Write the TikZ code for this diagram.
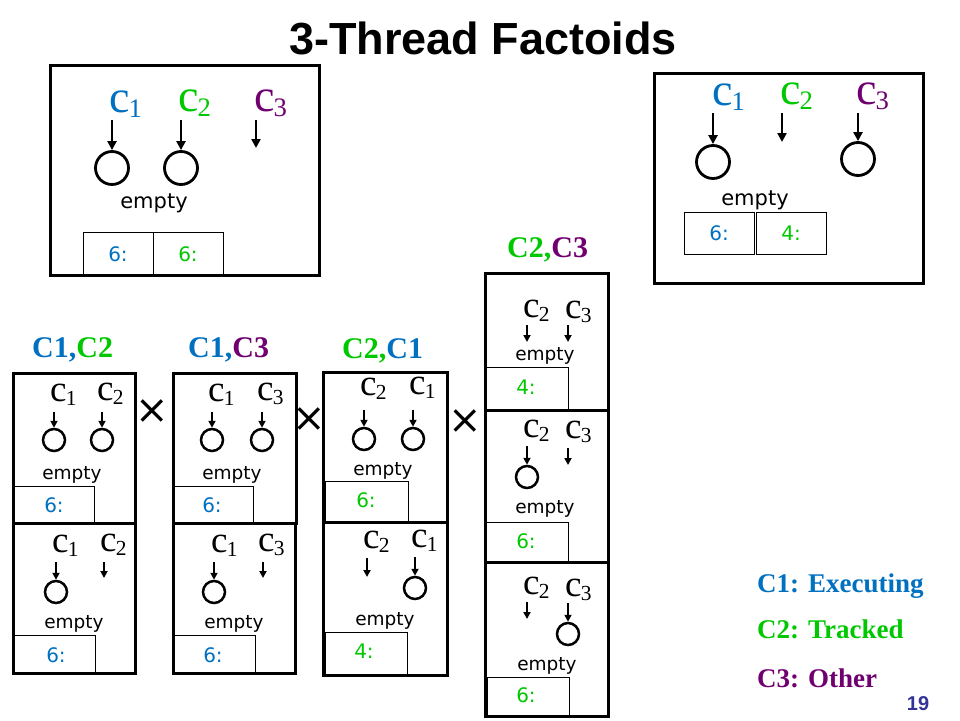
\documentclass[tikz,border=0pt]{standalone}
\usepackage{fontspec}
\setmainfont{Liberation Serif}
\setsansfont{DejaVu Sans}
\newfontfamily\arialfont{Liberation Sans}
\usetikzlibrary{arrows.meta}
\definecolor{cblue}{RGB}{0,112,192}
\definecolor{cgreen}{RGB}{0,200,0}
\definecolor{cpurple}{RGB}{112,0,112}
\definecolor{pagenavy}{RGB}{51,51,153}
\newcommand\cth[1]{c\kern-0.02em\raisebox{-0.12em}{\scalebox{0.58}{#1}}}
\begin{document}
\begin{tikzpicture}[x=1pt,y=-1pt,
    frame/.style={line width=3pt},
    reg/.style={line width=0.9pt},
    lock/.style={circle, draw, line width=2.8pt, inner sep=0pt, minimum size=33pt},
    slock/.style={lock, line width=2.5pt, minimum size=22pt},
    ptr/.style={line width=2.8pt, -{Triangle[length=9pt,width=9pt]}},
    sptr/.style={line width=2.4pt, -{Triangle[length=7pt,width=7pt]}},
    lbl/.style={anchor=base west, inner sep=0pt, font=\fontsize{46}{46}\selectfont},
    slbl/.style={anchor=base west, inner sep=0pt, font=\fontsize{37}{37}\selectfont},
    emp/.style={anchor=base, inner sep=0pt, font=\sffamily\fontsize{21}{21}\selectfont},
    semp/.style={emp, font=\sffamily\fontsize{18.5}{18.5}\selectfont},
    regtxt/.style={anchor=base, inner sep=0pt, font=\sffamily\fontsize{20}{20}\selectfont},
    hdr/.style={anchor=base west, inner sep=0pt, font=\bfseries\fontsize{30}{30}\selectfont},
    leg/.style={anchor=base west, inner sep=0pt, font=\bfseries\fontsize{27}{27}\selectfont},
    cross/.style={inner sep=0pt, font=\sffamily\fontsize{40}{40}\selectfont}]
  \useasboundingbox (0,0) rectangle (960,720);
  \node[anchor=base, font=\arialfont\bfseries\fontsize{45}{45}\selectfont] (title) at (483,54) {3-Thread Factoids};

  % top left
  \draw[reg] (83,232) rectangle (153,275);
  \draw[reg] (153,232) rectangle (223,275);
  \draw[frame] (50,65) rectangle (319,275);
  \node[lbl, text=cblue] (tl1) at (109,112) {\cth{1}};
  \node[lbl, text=cgreen] (tl2) at (178,111) {\cth{2}};
  \node[lbl, text=cpurple] (tl3) at (254,111) {\cth{3}};
  \node[lock] (tk1) at (112,168) {};
  \node[lock] (tk2) at (181,168) {};
  \coordinate (tp1) at (112,120);
  \coordinate (tp2) at (181,120);
  \coordinate (tp3) at (256,120);
  \coordinate (tq3) at (256,148);
  \draw[ptr] (tp1) -- (tk1);
  \draw[ptr] (tp2) -- (tk2);
  \draw[ptr] (tp3) -- (tq3);
  \node[emp] (te) at (154,208) {empty};
  \node[regtxt, text=cblue] (tr1) at (118,261) {6:};
  \node[regtxt, text=cgreen] (tr2) at (188,261) {6:};

  % top right
  \draw[reg] (684,212) rectangle (754,254);
  \draw[reg] (756,212) rectangle (826,254);
  \draw[frame] (654,73) rectangle (923,283);
  \node[lbl, text=cblue] (ul1) at (712,105) {\cth{1}};
  \node[lbl, text=cgreen] (ul2) at (780,104) {\cth{2}};
  \node[lbl, text=cpurple] (ul3) at (856,104) {\cth{3}};
  \node[lock] (uk1) at (713,162) {};
  \node[lock] (uk3) at (858,159) {};
  \coordinate (up1) at (713,113);
  \coordinate (up2) at (782,113);
  \coordinate (uq2) at (782,142);
  \coordinate (up3) at (858,113);
  \draw[ptr] (up1) -- (uk1);
  \draw[ptr] (up2) -- (uq2);
  \draw[ptr] (up3) -- (uk3);
  \node[emp] (ue) at (755,205) {empty};
  \node[regtxt, text=cblue] (ur1) at (719,240) {6:};
  \node[regtxt, text=cgreen] (ur2) at (791,240) {4:};

  % headers
  \node[hdr] (h12) at (32,357) {\color{cblue}C1,\color{cgreen}C2};
  \node[hdr] (h13) at (188,357) {\color{cblue}C1,\color{cpurple}C3};
  \node[hdr] (h21) at (342,358) {\color{cgreen}C2,\color{cblue}C1};
  \node[hdr] (h23) at (507,257) {\color{cgreen}C2,\color{cpurple}C3};
  \node[cross] (x1) at (152,412) {×};
  \node[cross] (x2) at (309,420) {×};
  \node[cross] (x3) at (465,422) {×};

  % C1,C2
  \draw[reg] (12,486) rectangle (94,523);
  \draw[reg] (13,635) rectangle (95,673);
  \draw[frame] (13,373) rectangle (135,523);
  \draw[frame] (13,523) rectangle (135,673);
  \node[slbl] (a1) at (50,401) {\cth{1}};
  \node[slbl] (a2) at (97,400) {\cth{2}};
  \node[slock] (ak1) at (54,440) {};
  \node[slock] (ak2) at (102,440) {};
  \coordinate (ap1) at (54,412);
  \coordinate (ap2) at (102,412);
  \draw[sptr] (ap1) -- (ak1);
  \draw[sptr] (ap2) -- (ak2);
  \node[semp] (ae) at (72,479) {empty};
  \node[regtxt, text=cblue] (ar) at (54,512) {6:};
  \node[slbl] (b1) at (52,552) {\cth{1}};
  \node[slbl] (b2) at (100,551) {\cth{2}};
  \node[slock] (bk1) at (56,592) {};
  \coordinate (bp1) at (56,562);
  \coordinate (bp2) at (104,562);
  \coordinate (bq2) at (104,578);
  \draw[sptr] (bp1) -- (bk1);
  \draw[sptr] (bp2) -- (bq2);
  \node[semp] (be) at (74,628) {empty};
  \node[regtxt, text=cblue] (br) at (56,662) {6:};

  % C1,C3
  \draw[reg] (173,486) rectangle (253,523);
  \draw[reg] (173,635) rectangle (255,673);
  \draw[frame] (173,373) rectangle (296,523);
  \draw[frame] (173,523) rectangle (295,673);
  \node[slbl] (c1) at (208,401) {\cth{1}};
  \node[slbl] (c3) at (257,400) {\cth{3}};
  \node[slock] (ck1) at (212,440) {};
  \node[slock] (ck3) at (262,440) {};
  \coordinate (cp1) at (212,412);
  \coordinate (cp3) at (262,412);
  \draw[sptr] (cp1) -- (ck1);
  \draw[sptr] (cp3) -- (ck3);
  \node[semp] (ce) at (232,479) {empty};
  \node[regtxt, text=cblue] (cr) at (212,512) {6:};
  \node[slbl] (d1) at (211,552) {\cth{1}};
  \node[slbl] (d3) at (258,551) {\cth{3}};
  \node[slock] (dk1) at (214,592) {};
  \coordinate (dp1) at (214,562);
  \coordinate (dp3) at (263,562);
  \coordinate (dq3) at (263,578);
  \draw[sptr] (dp1) -- (dk1);
  \draw[sptr] (dp3) -- (dq3);
  \node[semp] (de) at (234,628) {empty};
  \node[regtxt, text=cblue] (dr) at (213,662) {6:};

  % C2,C1
  \draw[reg] (325,481) rectangle (408,522);
  \draw[reg] (325,632) rectangle (407,675);
  \draw[frame] (323,372) rectangle (447,522);
  \draw[frame] (323,522) rectangle (447,675);
  \node[slbl] (e2) at (360,395) {\cth{2}};
  \node[slbl] (e1) at (409,394) {\cth{1}};
  \node[slock] (ek2) at (364,439) {};
  \node[slock] (ek1) at (413,439) {};
  \coordinate (ep2) at (364,410);
  \coordinate (ep1) at (413,410);
  \draw[sptr] (ep2) -- (ek2);
  \draw[sptr] (ep1) -- (ek1);
  \node[semp] (ee) at (383,475) {empty};
  \node[regtxt, text=cgreen] (er) at (366,507) {6:};
  \node[slbl] (f2) at (363,548) {\cth{2}};
  \node[slbl] (f1) at (411,547) {\cth{1}};
  \node[slock] (fk1) at (415,588) {};
  \coordinate (fp2) at (367,558);
  \coordinate (fq2) at (367,577);
  \coordinate (fp1) at (415,557);
  \draw[sptr] (fp2) -- (fq2);
  \draw[sptr] (fp1) -- (fk1);
  \node[semp] (fe) at (385,625) {empty};
  \node[regtxt, text=cgreen] (fr) at (364,658) {4:};

  % C2,C3
  \draw[reg] (486,367) rectangle (568,410);
  \draw[reg] (486,522) rectangle (568,562);
  \draw[reg] (487,677) rectangle (569,716);
  \draw[frame] (485,273) rectangle (608,410);
  \draw[frame] (485,410) rectangle (608,562);
  \draw[frame] (485,562) rectangle (608,716);
  \node[slbl] (g2) at (523,317) {\cth{2}};
  \node[slbl] (g3) at (565,318) {\cth{3}};
  \coordinate (gp2) at (527,325);
  \coordinate (gq2) at (527,342);
  \coordinate (gp3) at (568,325);
  \coordinate (gq3) at (568,342);
  \draw[sptr] (gp2) -- (gq2);
  \draw[sptr] (gp3) -- (gq3);
  \node[semp] (ge) at (545,360) {empty};
  \node[regtxt, text=cgreen] (gr) at (526,394) {4:};
  \node[slbl] (h2) at (523,437) {\cth{2}};
  \node[slbl] (h3) at (565,438) {\cth{3}};
  \node[slock] (hk2) at (527,477) {};
  \coordinate (hp2) at (527,446);
  \coordinate (hp3) at (568,448);
  \coordinate (hq3) at (568,465);
  \draw[sptr] (hp2) -- (hk2);
  \draw[sptr] (hp3) -- (hq3);
  \node[semp] (he) at (545,513) {empty};
  \node[regtxt, text=cgreen] (hr) at (526,548) {6:};
  \node[slbl] (i2) at (523,594) {\cth{2}};
  \node[slbl] (i3) at (565,596) {\cth{3}};
  \node[slock] (ik3) at (568,634) {};
  \coordinate (ip2) at (527,602);
  \coordinate (iq2) at (527,619);
  \coordinate (ip3) at (568,603);
  \draw[sptr] (ip2) -- (iq2);
  \draw[sptr] (ip3) -- (ik3);
  \node[semp] (ie) at (547,670) {empty};
  \node[regtxt, text=cgreen] (ir) at (526,702) {6:};

  % legend
  \node[leg, text=cblue] (lg1) at (757,592) {C1: Executing};
  \node[leg, text=cgreen] (lg2) at (757,638) {C2: Tracked};
  \node[leg, text=cpurple] (lg3) at (757,687) {C3: Other};
  \node[anchor=base, text=pagenavy, font=\arialfont\bfseries\fontsize{20}{20}\selectfont] (pg) at (918,710) {19};
\end{tikzpicture}
\end{document}
